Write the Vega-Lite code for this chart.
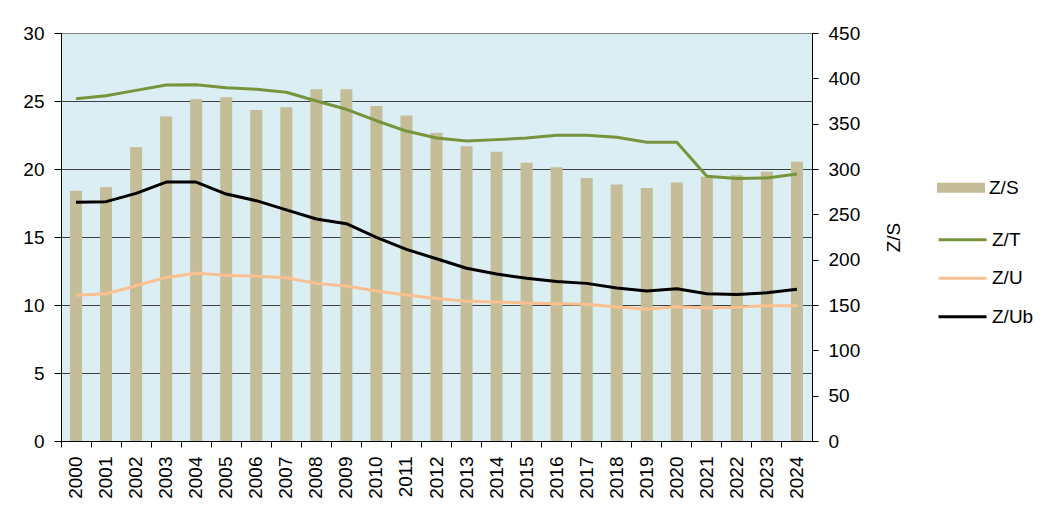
{
  "$schema": "https://vega.github.io/schema/vega-lite/v6.json",
  "width": 751,
  "height": 408,
  "autosize": {"type": "none"},
  "padding": {"left": 61, "top": 33, "right": 231, "bottom": 85},
  "background": "white",
  "config": {
    "font": "Liberation Sans",
    "view": {"fill": "#DBEEF4", "stroke": "#808080", "strokeWidth": 1},
    "axis": {
      "labelFont": "Liberation Sans",
      "labelFontSize": 19,
      "labelColor": "black",
      "titleFont": "Liberation Sans",
      "titleFontSize": 19,
      "titleFontWeight": "normal",
      "titleColor": "black",
      "domainColor": "black",
      "tickColor": "black",
      "domainWidth": 1
    },
    "legend": {
      "labelFont": "Liberation Sans",
      "labelFontSize": 19,
      "labelColor": "black",
      "padding": 0,
      "rowPadding": 2.5,
      "labelOffset": 4,
      "symbolSize": 2304,
      "titlePadding": 0
    }
  },
  "data": {
    "values": [
      {"year": "2000", "S": 276, "Z/T": 25.17, "Z/U": 10.71, "Z/Ub": 17.55},
      {"year": "2001", "S": 280, "Z/T": 25.39, "Z/U": 10.83, "Z/Ub": 17.6},
      {"year": "2002", "S": 324, "Z/T": 25.78, "Z/U": 11.42, "Z/Ub": 18.21},
      {"year": "2003", "S": 358, "Z/T": 26.18, "Z/U": 12.03, "Z/Ub": 19.04},
      {"year": "2004", "S": 377, "Z/T": 26.2, "Z/U": 12.33, "Z/Ub": 19.04},
      {"year": "2005", "S": 379, "Z/T": 25.98, "Z/U": 12.18, "Z/Ub": 18.16},
      {"year": "2006", "S": 365, "Z/T": 25.86, "Z/U": 12.11, "Z/Ub": 17.67},
      {"year": "2007", "S": 368, "Z/T": 25.64, "Z/U": 12.01, "Z/Ub": 16.99},
      {"year": "2008", "S": 388, "Z/T": 25.0, "Z/U": 11.59, "Z/Ub": 16.32},
      {"year": "2009", "S": 388, "Z/T": 24.39, "Z/U": 11.4, "Z/Ub": 15.98},
      {"year": "2010", "S": 369.5, "Z/T": 23.55, "Z/U": 11.03, "Z/Ub": 14.97},
      {"year": "2011", "S": 359, "Z/T": 22.79, "Z/U": 10.74, "Z/Ub": 14.09},
      {"year": "2012", "S": 340, "Z/T": 22.28, "Z/U": 10.47, "Z/Ub": 13.4},
      {"year": "2013", "S": 325, "Z/T": 22.06, "Z/U": 10.27, "Z/Ub": 12.7},
      {"year": "2014", "S": 319, "Z/T": 22.16, "Z/U": 10.22, "Z/Ub": 12.28},
      {"year": "2015", "S": 307, "Z/T": 22.28, "Z/U": 10.15, "Z/Ub": 11.96},
      {"year": "2016", "S": 302, "Z/T": 22.48, "Z/U": 10.1, "Z/Ub": 11.72},
      {"year": "2017", "S": 290, "Z/T": 22.48, "Z/U": 10.05, "Z/Ub": 11.59},
      {"year": "2018", "S": 283, "Z/T": 22.33, "Z/U": 9.85, "Z/Ub": 11.25},
      {"year": "2019", "S": 279, "Z/T": 21.96, "Z/U": 9.68, "Z/Ub": 11.03},
      {"year": "2020", "S": 285, "Z/T": 21.96, "Z/U": 9.88, "Z/Ub": 11.2},
      {"year": "2021", "S": 291.5, "Z/T": 19.46, "Z/U": 9.78, "Z/Ub": 10.83},
      {"year": "2022", "S": 293, "Z/T": 19.31, "Z/U": 9.83, "Z/Ub": 10.78},
      {"year": "2023", "S": 297, "Z/T": 19.34, "Z/U": 9.95, "Z/Ub": 10.9},
      {"year": "2024", "S": 308, "Z/T": 19.63, "Z/U": 9.95, "Z/Ub": 11.15}
    ]
  },
  "encoding": {
    "x": {
      "field": "year",
      "type": "ordinal",
      "scale": {"paddingInner": 0, "paddingOuter": 0},
      "axis": {
        "title": null,
        "labelAngle": -90,
        "labelAlign": "right",
        "labelBaseline": "middle",
        "labelPadding": 9,
        "tickSize": 6,
        "bandPosition": 0,
        "grid": false
      }
    }
  },
  "layer": [
    {
      "mark": {"type": "bar", "width": {"band": 0.4}, "color": "#C4BD97"},
      "encoding": {
        "y": {
          "field": "S",
          "type": "quantitative",
          "scale": {"domain": [0, 450], "nice": false},
          "axis": {
            "orient": "right",
            "title": "Z/S",
            "titleAngle": -90,
            "titlePadding": 44,
            "values": [0, 50, 100, 150, 200, 250, 300, 350, 400, 450],
            "grid": false,
            "tickSize": 6,
            "labelPadding": 10
          }
        },
        "fill": {
          "datum": "Z/S",
          "type": "nominal",
          "scale": {"domain": ["Z/S"], "range": ["#C4BD97"]},
          "legend": {
            "title": null,
            "orient": "none",
            "legendX": 876,
            "legendY": 130.7,
            "symbolType": "M-1,-0.21H1V0.21H-1Z",
            "symbolStrokeWidth": 0
          }
        }
      }
    },
    {
      "transform": [
        {"fold": ["Z/T", "Z/U", "Z/Ub"], "as": ["series", "value"]}
      ],
      "mark": {"type": "line", "strokeJoin": "round"},
      "encoding": {
        "y": {
          "field": "value",
          "type": "quantitative",
          "scale": {"domain": [0, 30], "nice": false},
          "axis": {
            "orient": "left",
            "title": null,
            "values": [0, 5, 10, 15, 20, 25, 30],
            "grid": true,
            "gridColor": {"condition": {"test": "datum.value == 0 || datum.value == 30", "value": "transparent"}, "value": "#404040"},
            "gridWidth": 1,
            "tickSize": 7,
            "labelPadding": 10
          }
        },
        "stroke": {
          "field": "series",
          "type": "nominal",
          "scale": {"domain": ["Z/T", "Z/U", "Z/Ub"], "range": ["#77933C", "#FAC090", "#000000"]},
          "legend": {
            "title": null,
            "orient": "none",
            "legendX": 876,
            "legendY": 181.3,
            "symbolType": "stroke"
          }
        },
        "strokeWidth": {
          "field": "series",
          "type": "nominal",
          "scale": {"domain": ["Z/T", "Z/U", "Z/Ub"], "range": [3, 3, 2]},
          "legend": {
            "title": null,
            "orient": "none",
            "legendX": 876,
            "legendY": 181.3,
            "symbolType": "stroke"
          }
        }
      }
    }
  ],
  "resolve": {"scale": {"y": "independent"}}
}
